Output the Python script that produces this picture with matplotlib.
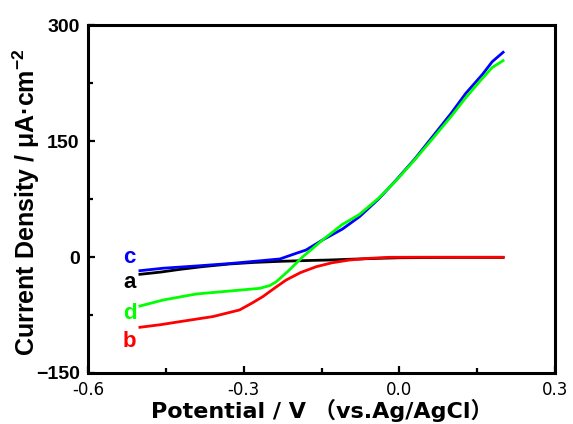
import matplotlib.pyplot as plt
from matplotlib.ticker import MultipleLocator

plt.rcParams['font.family'] = ['Liberation Sans', 'Noto Sans CJK SC', 'DejaVu Sans']
plt.rcParams['mathtext.default'] = 'regular'

# curve a (black)
a_x = [-0.5, -0.46, -0.423, -0.38, -0.327, -0.28, -0.23, -0.18, -0.135, -0.09, -0.039, 0.0, 0.1, 0.2]
a_y = [-22.4, -19.5, -16, -12.5, -9, -7, -5.6, -4.6, -3.9, -2.8, -1.7, -1.0, -0.5, -0.5]

# curve b (red)
b_x = [-0.5, -0.46, -0.423, -0.359, -0.308, -0.285, -0.263, -0.24, -0.218, -0.19, -0.16, -0.13,
       -0.096, -0.06, -0.019, 0.05, 0.12, 0.2]
b_y = [-90.9, -87.5, -83.6, -77, -68.5, -60, -51.2, -40, -29.7, -20, -12.5, -7.5,
       -3.9, -1.8, -0.4, -0.3, -0.3, -0.3]

# curve c (blue)
c_x = [-0.5, -0.455, -0.391, -0.327, -0.27, -0.23, -0.2, -0.18, -0.148, -0.11, -0.077, -0.04,
       -0.006, 0.03, 0.064, 0.1, 0.128, 0.16, 0.179, 0.2]
c_y = [-17.7, -14.5, -11.6, -8.5, -5.0, -2.5, 4.5, 9, 22, 36, 52, 75,
       99.6, 127, 155.6, 186, 211.6, 236, 252.6, 264.7]

# curve d (green)
d_x = [-0.5, -0.455, -0.391, -0.327, -0.269, -0.25, -0.237, -0.212, -0.186, -0.148, -0.11, -0.077,
       -0.04, -0.006, 0.03, 0.064, 0.1, 0.128, 0.16, 0.179, 0.2]
d_y = [-63.4, -55.6, -47.8, -44, -40.5, -37, -31.9, -16.8, 0.4, 22, 42, 55,
       76, 99, 126, 153, 182, 206, 231, 245, 254]

SERIES = [
    ("a", a_x, a_y, "#000000", -40),
    ("b", b_x, b_y, "#ff0000", -116),
    ("c", c_x, c_y, "#0000ff", -8),
    ("d", d_x, d_y, "#00ff00", -80),
]

WIDE = ['DejaVu Sans', 'Noto Sans CJK SC']

fig = plt.figure(figsize=(5.73, 4.24), dpi=100)
ax = fig.add_axes([0.1536, 0.1203, 0.8150, 0.8207])

for name, xs, ys, color, label_y in SERIES:
    ax.plot(xs, ys, color=color, linewidth=2.0)
    ax.text(-0.520, label_y, name, color=color, fontsize=16, fontweight="bold",
            ha="center", va="baseline")

ax.set_xlim(-0.6, 0.3)
ax.set_ylim(-150, 300)
ax.xaxis.set_minor_locator(MultipleLocator(0.15))
ax.yaxis.set_major_locator(MultipleLocator(150))
ax.yaxis.set_minor_locator(MultipleLocator(75))
ax.set_xticks([-0.6, -0.3, 0.0, 0.3])
ax.set_xticklabels(["-0.6", "-0.3", "0.0", "0.3"], fontfamily=WIDE, fontsize=12)

ax.tick_params(which="both", direction="in", top=False, right=False, width=1.6)
ax.tick_params(which="major", length=5)
ax.tick_params(which="minor", length=3.5)
ax.tick_params(axis="y", labelsize=14, pad=6)
ax.tick_params(axis="x", pad=6)
for lab in ax.get_yticklabels():
    lab.set_fontweight("bold")
for spine in ax.spines.values():
    spine.set_linewidth(2.2)

ax.set_xlabel("Potential / V （vs.Ag/AgCl）", fontsize=16, fontweight="bold",
              fontfamily=WIDE, labelpad=0)
ax.set_ylabel("Current Density / μA·cm$^{-2}$", fontsize=18, fontweight="bold")
ax.yaxis.set_label_coords(-0.098, 0.49)

fig.savefig("out.png", dpi=100)
